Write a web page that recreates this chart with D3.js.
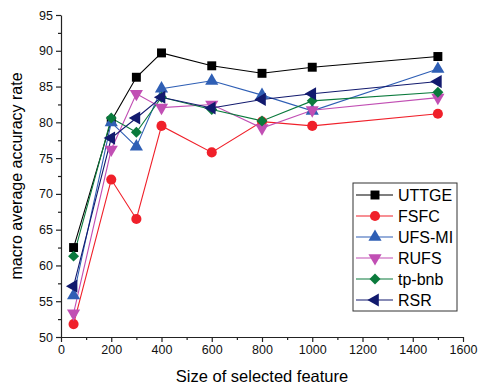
<!DOCTYPE html>
<html>
<head>
<meta charset="utf-8">
<script src="https://cdn.jsdelivr.net/npm/d3@7"></script>
<style>
  body { margin: 0; background: #fff; }
  text { font-family: Arial, "Liberation Sans", sans-serif; }
</style>
</head>
<body>
<script>
const sizes = [50, 200, 300, 400, 600, 800, 1000, 1500];
const seriesNames = ["UTTGE", "FSFC", "UFS-MI", "RUFS", "tp-bnb", "RSR"];
const uttge = [62.5, 80.2, 86.3, 89.7, 87.9, 86.85, 87.7, 89.2];
const fsfc = [51.8, 72.0, 66.5, 79.5, 75.8, 80.1, 79.5, 81.2];
const ufsmi = [55.8, 80.0, 76.6, 84.7, 85.8, 83.8, 81.6, 87.45];
const rufs = [53.3, 76.2, 84.0, 82.05, 82.5, 79.2, 81.7, 83.45];
const tpbnb = [61.3, 80.6, 78.6, 83.5, 81.8, 80.2, 83.0, 84.2];
const rsr = [57.1, 77.8, 80.6, 83.5, 82.0, 83.2, 84.0, 85.7];
const xTicks = [0, 200, 400, 600, 800, 1000, 1200, 1400, 1600];
const yTicks = [50, 55, 60, 65, 70, 75, 80, 85, 90, 95];

const seriesValues = [uttge, fsfc, ufsmi, rufs, tpbnb, rsr];
const colors = ["#000000", "#f0202a", "#2f5fb5", "#c14fb4", "#0a7a3c", "#121a6e"];
const symbols = [d3.symbolSquare, d3.symbolCircle, d3.symbolTriangle, d3.symbolTriangle, d3.symbolSquare, d3.symbolTriangle];
const rotations = [0, 0, 0, 180, 45, -90];
const symSizes = [80, 80, 75, 75, 60, 75];

const width = 479;
const height = 387;
const margin = { top: 15, right: 16, bottom: 50, left: 61 };

const svg = d3.select("body").append("svg")
  .attr("width", width)
  .attr("height", height);

const x = d3.scaleLinear().domain([0, 1600]).range([margin.left, width - margin.right]);
const y = d3.scaleLinear().domain([50, 95]).range([height - margin.bottom, margin.top]);

// minor ticks
const xAxisMinor = d3.axisBottom(x).tickValues(d3.range(100, 1600, 200)).tickSize(3).tickFormat("");
const yAxisMinor = d3.axisLeft(y).tickValues(d3.range(52.5, 95, 5)).tickSize(3).tickFormat("");

svg.append("g")
  .attr("transform", `translate(0,${y(50)})`)
  .call(xAxisMinor)
  .call((g) => g.select(".domain").remove());
svg.append("g")
  .attr("transform", `translate(${x(0)},0)`)
  .call(yAxisMinor)
  .call((g) => g.select(".domain").remove());

const xAxis = svg.append("g")
  .attr("transform", `translate(0,${y(50)})`)
  .call(d3.axisBottom(x).tickValues(xTicks).tickFormat(d3.format("d")).tickSize(5).tickSizeOuter(0).tickPadding(3));
const yAxis = svg.append("g")
  .attr("transform", `translate(${x(0)},0)`)
  .call(d3.axisLeft(y).tickValues(yTicks).tickSize(5).tickSizeOuter(0).tickPadding(3));

[xAxis, yAxis].forEach((g) => {
  g.selectAll("text").attr("font-size", 12.5).attr("fill", "#111").style("font-family", "Arial, 'Liberation Sans', sans-serif");
  g.selectAll("line, path").attr("stroke", "#222").attr("stroke-width", 1.2);
});
svg.selectAll(".tick line").attr("stroke", "#222").attr("stroke-width", 1.2);

svg.append("text")
  .attr("x", x(800))
  .attr("y", height - 5)
  .attr("text-anchor", "middle")
  .attr("font-size", 16.5)
  .text("Size of selected feature");

svg.append("text")
  .attr("transform", `translate(22,${(y(50) + y(95)) / 2}) rotate(-90)`)
  .attr("text-anchor", "middle")
  .attr("font-size", 16)
  .text("macro average accuracy rate");

const line = d3.line().x((d) => x(d[0])).y((d) => y(d[1]));

seriesValues.forEach((vals, i) => {
  const pts = sizes.map((s, j) => [s, vals[j]]);
  svg.append("path")
    .datum(pts)
    .attr("fill", "none")
    .attr("stroke", colors[i])
    .attr("stroke-width", 1.1)
    .attr("d", line);
});

seriesValues.forEach((vals, i) => {
  const pts = sizes.map((s, j) => [s, vals[j]]);
  svg.append("g").selectAll("path")
    .data(pts)
    .join("path")
    .attr("transform", (d) => `translate(${x(d[0])},${y(d[1])}) rotate(${rotations[i]})`)
    .attr("d", d3.symbol(symbols[i], symSizes[i]))
    .attr("fill", colors[i]);
});

// legend
const legend = svg.append("g").attr("transform", "translate(353,183)");
legend.append("rect")
  .attr("width", 104)
  .attr("height", 128)
  .attr("fill", "#fff")
  .attr("stroke", "#333")
  .attr("stroke-width", 1);

seriesNames.forEach((name, i) => {
  const row = legend.append("g").attr("transform", `translate(0,${12 + i * 21})`);
  row.append("line")
    .attr("x1", 3).attr("x2", 40)
    .attr("stroke", colors[i]).attr("stroke-width", 1.2);
  row.append("path")
    .attr("transform", `translate(22,0) rotate(${rotations[i]})`)
    .attr("d", d3.symbol(symbols[i], symSizes[i]))
    .attr("fill", colors[i]);
  row.append("text")
    .attr("x", 45)
    .attr("y", 6)
    .attr("font-size", 16)
    .text(name);
});
</script>
</body>
</html>
